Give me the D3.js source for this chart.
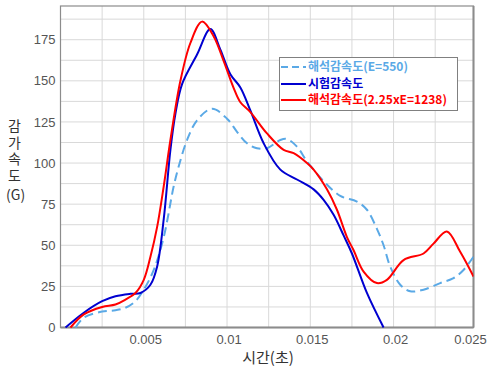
<!DOCTYPE html>
<html><head><meta charset="utf-8">
<script src="https://cdn.jsdelivr.net/npm/d3@7"></script>
<style>body{margin:0;background:#fff}svg{display:block}</style>
</head><body>
<svg id="c" width="490" height="368"></svg>
<script>
const xTicks = [0.005, 0.01, 0.015, 0.02, 0.025];
const yTicks = [0, 25, 50, 75, 100, 125, 150, 175];
const seriesNames = ["해석감속도(E=550)", "시험감속도", "해석감속도(2.25xE=1238)"];
const seriesColors = ["#5aa9e6", "#0000d0", "#ff0000"];

const analysisE550 = [
  [0.0009,0],[0.0014,6],[0.0025,9.7],[0.0033,10.5],[0.0039,12],[0.0045,16],[0.005,23],
  [0.0056,35],[0.0062,55],[0.0068,86],[0.0071,98],[0.0076,114],[0.0082,126],[0.0091,133],
  [0.01,127],[0.0106,119],[0.0112,112],[0.0118,109],[0.0124,109],[0.0132,114],[0.0136,114.6],
  [0.0142,110],[0.0148,101],[0.0158,89],[0.0168,80],[0.0178,76.6],[0.0184,71.6],[0.019,60],
  [0.0194,50],[0.0198,37],[0.0204,26],[0.021,22],[0.0218,23],[0.0228,27],[0.0236,30],
  [0.0242,35],[0.0248,43]
];
const testDecel = [
  [0.0003,0],[0.0014,9],[0.0025,16],[0.0033,19],[0.0042,20.5],[0.0048,21],[0.0054,26],
  [0.0058,37],[0.0062,66],[0.0066,108],[0.0069,130],[0.0073,148],[0.0082,166],[0.009,181.5],
  [0.0096,169],[0.0102,154],[0.0108,146],[0.0114,132],[0.0122,112],[0.0132,96],[0.0142,90],
  [0.0152,84],[0.0158,77.6],[0.0164,68.5],[0.017,56],[0.0175,45],[0.0184,21],[0.0194,0]
];
const analysisE1238 = [
  [0.0006,0],[0.0014,8],[0.0025,12.5],[0.0033,14],[0.0039,17],[0.0045,21],[0.005,29],
  [0.0054,43],[0.0058,61],[0.0062,86],[0.0066,114],[0.0072,150],[0.0078,173],[0.0085,186],
  [0.0092,177],[0.0098,162],[0.0104,145.6],[0.0108,137],[0.0114,131],[0.0124,118],[0.0134,108],
  [0.014,106],[0.0148,100],[0.0152,96],[0.016,84],[0.0166,71.6],[0.0172,55],[0.0176,47],
  [0.0182,34],[0.019,27],[0.0196,29],[0.0206,41],[0.0218,45],[0.0224,51],[0.0232,58.4],
  [0.024,46],[0.0248,31]
];
const allSeries = [analysisE550, testDecel, analysisE1238];

const svg = d3.select("#c");
const L = 60.5, R = 473.5, T = 6, B = 327.5;
const x = d3.scaleLinear().domain([0, 0.0248]).range([L, R]);
const y = d3.scaleLinear().domain([0, 195.5]).range([B, T]);

const g = svg.append("g");
// grid
const vGrid = d3.range(0.0025, 0.0248, 0.0025);
const hGrid = d3.range(12.5, 195, 12.5);
g.selectAll(".vg").data(vGrid).enter().append("line")
  .attr("x1", d => x(d)).attr("x2", d => x(d)).attr("y1", T).attr("y2", B)
  .attr("stroke", "#d9d9d9").attr("stroke-width", 1);
g.selectAll(".hg").data(hGrid).enter().append("line")
  .attr("x1", L).attr("x2", R).attr("y1", d => y(d)).attr("y2", d => y(d))
  .attr("stroke", "#d9d9d9").attr("stroke-width", 1);

// axes (labels only)
const fontTick = "'Liberation Sans', Arial, sans-serif";
const xAxis = d3.axisBottom(x).tickValues(xTicks).tickSize(0).tickPadding(7)
  .tickFormat(d => String(d));
const xg = svg.append("g").attr("transform", `translate(0,${B})`).call(xAxis);
xg.select(".domain").remove();
xg.selectAll(".tick").attr("transform", d => `translate(${x(d) > R ? R - 3 : x(d) + 2},0)`);
xg.selectAll("text").attr("font-size", 13).attr("font-family", fontTick).attr("fill", "#555");

const yAxis = d3.axisLeft(y).tickValues(yTicks).tickSize(0).tickPadding(5);
const yg = svg.append("g").attr("transform", `translate(${L},0)`).call(yAxis);
yg.select(".domain").remove();
yg.selectAll("text").attr("font-size", 13).attr("font-family", fontTick).attr("fill", "#555");

// frame
svg.append("rect").attr("x", L).attr("y", T).attr("width", R - L).attr("height", B - T)
  .attr("fill", "none").attr("stroke", "#8c8c8c").attr("stroke-width", 1.2);
svg.append("line").attr("x1", R).attr("x2", R).attr("y1", T).attr("y2", B)
  .attr("stroke", "#8c8c8c").attr("stroke-width", 2);
svg.append("line").attr("x1", L).attr("x2", R).attr("y1", B).attr("y2", B)
  .attr("stroke", "#8c8c8c").attr("stroke-width", 2);

// lines
const line = d3.line().x(d => x(d[0])).y(d => y(d[1])).curve(d3.curveCatmullRom.alpha(0.5));
const clip = svg.append("clipPath").attr("id", "clp").append("rect")
  .attr("x", L).attr("y", T).attr("width", R - L).attr("height", B - T + 1);
allSeries.forEach((s, i) => {
  svg.append("path").datum(s).attr("d", line).attr("fill", "none")
    .attr("stroke", seriesColors[i]).attr("stroke-width", 2)
    .attr("stroke-dasharray", i === 0 ? "9,5" : null)
    .attr("clip-path", "url(#clp)");
});

// legend
const lg = svg.append("g");
lg.append("rect").attr("x", 279.5).attr("y", 57.5).attr("width", 178).attr("height", 53)
  .attr("fill", "#fff").attr("stroke", "#808080").attr("stroke-width", 1);
const rowsY = [67, 84, 100];
seriesNames.forEach((n, i) => {
  lg.append("line").attr("x1", 281).attr("x2", 306).attr("y1", rowsY[i]).attr("y2", rowsY[i])
    .attr("stroke", seriesColors[i]).attr("stroke-width", 2)
    .attr("stroke-dasharray", i === 0 ? "7,4" : null);
  lg.append("text").attr("x", 308).attr("y", rowsY[i]).attr("dy", "0.36em")
    .attr("font-family", "'Noto Sans CJK KR', sans-serif").attr("font-weight", "bold")
    .attr("font-size", 12).attr("fill", seriesColors[i]).text(n);
});

// titles
const fontKr = "'Noto Sans CJK KR', sans-serif";
svg.append("text").attr("x", 14.5).attr("y", 119)
  .attr("font-family", fontKr).attr("font-size", 14).attr("fill", "#333")
  .style("writing-mode", "vertical-rl").style("text-orientation", "upright")
  .attr("letter-spacing", 2.5).text("감가속도");
svg.append("text").attr("x", 6).attr("y", 200)
  .attr("font-family", fontKr).attr("font-size", 14).attr("fill", "#333").text("(G)");
svg.append("text").attr("x", 268).attr("y", 363).attr("text-anchor", "middle")
  .attr("font-family", fontKr).attr("font-size", 15).attr("fill", "#333").text("시간(초)");
</script>
</body></html>
